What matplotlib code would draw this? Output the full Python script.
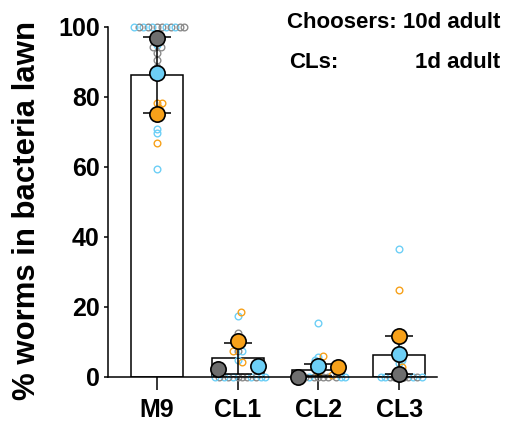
import numpy as np
import matplotlib
matplotlib.use("Agg")
import matplotlib.pyplot as plt

plt.rcParams["font.family"] = ["Liberation Sans", "DejaVu Sans"]
plt.rcParams["font.weight"] = "bold"

groups = ["M9", "CL1", "CL2", "CL3"]
rep_names = ["gray", "blue", "orange"]
rep_colors = {"gray": "#6e6e6e", "blue": "#6dcff6", "orange": "#f7a11a"}
point_colors = {"gray": "#8c8c8c", "blue": "#6dcff6", "orange": "#f7a11a"}

# replicate means (big dots)
rep_means = {
    "gray": [96.8, 2.4, 0.0, 0.9],
    "blue": [86.9, 3.2, 3.2, 6.6],
    "orange": [75.1, 10.3, 2.9, 11.7],
}

# individual plates (small open circles)
points = {
    "M9": {
        "gray": [100] * 7 + [94.2, 94.2, 92.5, 90.6, 88.7],
        "blue": [100] * 5 + [95, 71, 69.6, 59.3],
        "orange": [78.2, 78.2, 77, 67],
    },
    "CL1": {
        "gray": [12.7, 7.5] + [0] * 6,
        "blue": [17.5, 7.5, 4.9] + [0] * 6,
        "orange": [18.5, 7.5, 4.2],
    },
    "CL2": {
        "gray": [0] * 6,
        "blue": [15.3, 5.8, 4.9] + [0] * 5,
        "orange": [6, 3.5, 1.5, 0.5],
    },
    "CL3": {
        "gray": [6] + [0] * 6,
        "blue": [36.5, 8, 5, 4] + [0] * 4,
        "orange": [25, 7, 3],
    },
}

# sideways shift of the big dots, per group (layout only)
mean_dodge = {
    "M9": {"gray": 0, "blue": 0, "orange": 0},
    "CL1": {"gray": -0.24, "blue": 0.25, "orange": 0},
    "CL2": {"gray": -0.25, "blue": 0, "orange": 0.24},
    "CL3": {"gray": 0, "blue": 0, "orange": 0},
}

W, H = 506, 428
fig = plt.figure(figsize=(W / 100, H / 100), dpi=100)
ax = fig.add_axes([108 / W, 1 - 377 / H, (437 - 108) / W, 350 / H])
ax.set_xlim(-0.606, 3.47)
ax.set_ylim(0, 100)

x = np.arange(len(groups))
means_arr = np.array([rep_means[r] for r in rep_names])
bar_h = means_arr.mean(axis=0)
bar_sd = means_arr.std(axis=0, ddof=1)

ax.bar(x, bar_h, width=0.645, color="white", edgecolor="black",
       linewidth=1.1, zorder=1)
ax.errorbar(x, bar_h, yerr=bar_sd, fmt="none", ecolor="black",
            elinewidth=1.1, capsize=10, capthick=1.1, zorder=3, clip_on=False)

# simple beeswarm in pixel space
px_x = 80.8  # px per x unit
px_y = 3.5   # px per y unit
step = 4.6


def swarm(vals):
    placed = []
    for v in vals:
        y = v * px_y
        cands = [0.0]
        for (qx, qy) in placed:
            dy = y - qy
            if abs(dy) < step:
                dx = np.sqrt(step ** 2 - dy ** 2)
                cands += [qx + dx, qx - dx]
        cands.sort(key=abs)
        for c in cands:
            if all((c - qx) ** 2 + (y - qy) ** 2 >= step ** 2 - 1e-6 for qx, qy in placed):
                break
        placed.append((c, y))
    return np.array([p[0] for p in placed]) / px_x


for i, g in enumerate(groups):
    vals, cols = [], []
    # take two at a time from each replicate so rows mix colours
    queues = {r: list(points[g][r]) for r in rep_names}
    while any(queues.values()):
        for r in rep_names:
            for _ in range(2):
                if queues[r]:
                    vals.append(queues[r].pop(0))
                    cols.append(point_colors[r])
    offs = swarm(vals)
    for xo, v, c in zip(offs, vals, cols):
        ax.plot(i + xo, v, "o", ms=4.8, mfc="none", mec=c, mew=1.0,
                zorder=2, clip_on=False)

for i, g in enumerate(groups):
    for r in rep_names:
        ax.plot(i + mean_dodge[g][r], rep_means[r][i], "o", ms=11,
                mfc=rep_colors[r], mec="black", mew=1.2, zorder=4, clip_on=False)

for s in ["top", "right"]:
    ax.spines[s].set_visible(False)
ax.spines["left"].set_linewidth(1.1)
ax.spines["bottom"].set_linewidth(1.1)

ax.set_yticks([0, 20, 40, 60, 80, 100])
ax.set_xticks(x)
ax.set_xticklabels(groups)
ax.tick_params(axis="y", direction="out", length=3, width=1.1, labelsize=18, pad=3)
ax.tick_params(axis="x", direction="out", length=9, width=1.1, labelsize=18, pad=6)
for lab in ax.get_xticklabels() + ax.get_yticklabels():
    lab.set_fontweight("bold")

fig.text(27 / W, 1 - 210 / H, "% worms in bacteria lawn", rotation=90,
         ha="center", va="center", fontsize=22.4, fontweight="bold")

fig.text(500 / W, 1 - 22 / H, "Choosers: 10d adult", ha="right", va="center",
         fontsize=16, fontweight="bold")
fig.text(289 / W, 1 - 63 / H, "CLs:", ha="left", va="center",
         fontsize=16, fontweight="bold")
fig.text(500 / W, 1 - 63 / H, "1d adult", ha="right", va="center",
         fontsize=16, fontweight="bold")

fig.savefig("out.png", dpi=100)
